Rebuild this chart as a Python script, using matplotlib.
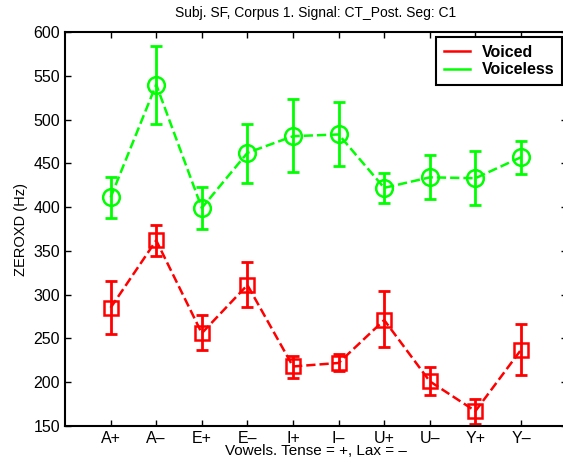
import matplotlib
matplotlib.use("Agg")
import matplotlib.pyplot as plt

plt.rcParams['font.family'] = ['Liberation Sans', 'DejaVu Sans']

vowels = ['A+', 'A\u2013', 'E+', 'E\u2013', 'I+', 'I\u2013', 'U+', 'U\u2013', 'Y+', 'Y\u2013']

voiced_mean = [285, 362, 256, 311, 218, 222, 271, 201, 167, 237]
voiced_lo = [255, 344, 237, 286, 205, 213, 240, 185, 152, 208]
voiced_hi = [316, 380, 277, 337, 230, 232, 304, 217, 181, 266]

voiceless_mean = [411, 540, 399, 462, 481, 483, 422, 434, 433, 457]
voiceless_lo = [387, 495, 375, 428, 440, 447, 405, 409, 402, 438]
voiceless_hi = [434, 584, 423, 495, 523, 520, 439, 460, 464, 476]

x = list(range(1, len(vowels) + 1))

fig = plt.figure(figsize=(5.63, 4.65), dpi=100)
ax = fig.add_axes([65 / 563, 1 - 426 / 465, 501.6 / 563, 394 / 465])


def draw(mean, lo, hi, color, marker, ms, label):
  yerr = [[m - l for m, l in zip(mean, lo)], [h - m for m, h in zip(mean, hi)]]
  ax.errorbar(x, mean, yerr=yerr, fmt='none', ecolor=color, elinewidth=2,
              capsize=4, capthick=2)
  ax.plot(x, mean, '--', color=color, lw=1.8, marker=marker, ms=ms,
          mfc='none', mec=color, mew=1.8)
  ax.plot([], [], '-', color=color, lw=1.8, label=label)


draw(voiced_mean, voiced_lo, voiced_hi, '#ff0000', 's', 10, 'Voiced')
draw(voiceless_mean, voiceless_lo, voiceless_hi, '#00ff00', 'o', 12, 'Voiceless')

ax.set_xlim(0, 11)
ax.set_ylim(150, 600)
ax.set_xticks(x)
ax.set_xticklabels(vowels)
ax.set_yticks(range(150, 601, 50))
ax.tick_params(direction='in', top=True, right=True, labelsize=11.5, length=4,
               width=1)
for s in ax.spines.values():
  s.set_linewidth(1.5)

ax.set_title('Subj. SF, Corpus 1. Signal: CT_Post. Seg: C1', fontsize=10, pad=11)
ax.set_xlabel('Vowels. Tense = +, Lax = \u2013', fontsize=11, labelpad=-1)
ax.set_ylabel('ZEROXD (Hz)', fontsize=10.5, labelpad=4)

leg = ax.legend(loc='upper left', bbox_to_anchor=(371 / 501.6, 1 - 5 / 394),
                fancybox=False, framealpha=1, edgecolor='black',
                prop={'weight': 'bold', 'size': 11.5}, handlelength=1.65,
                borderpad=0.5, labelspacing=0.15, handletextpad=0.7,
                borderaxespad=0)
leg.get_frame().set_linewidth(1.5)

fig.savefig('out.png', dpi=100)
